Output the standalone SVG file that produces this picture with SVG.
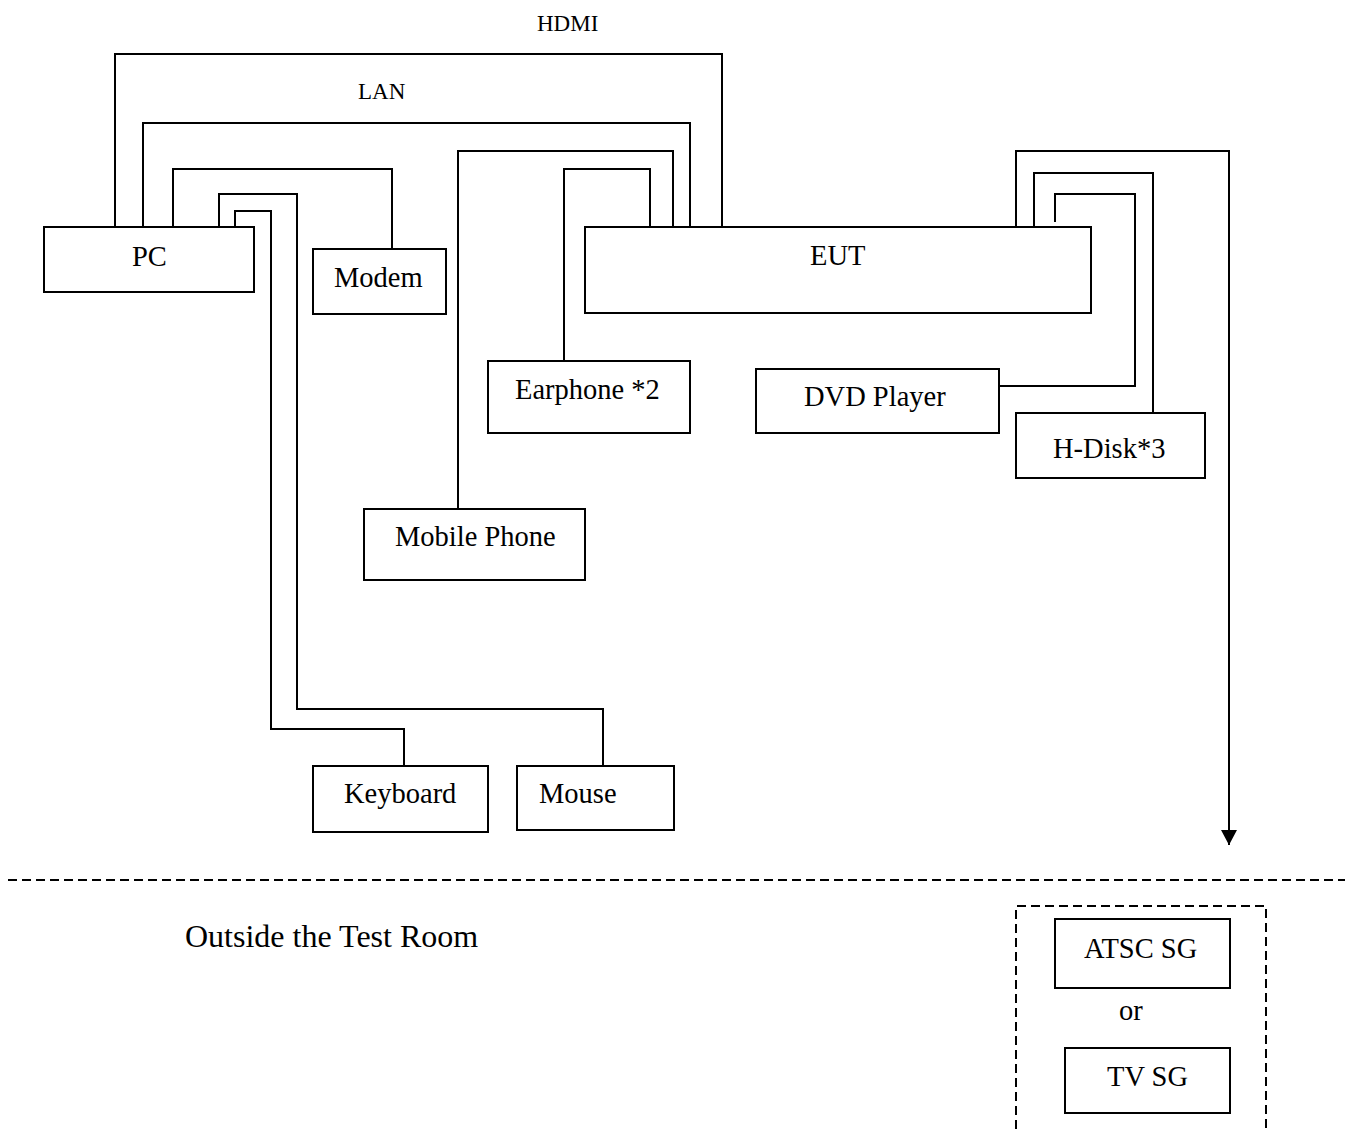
<svg xmlns="http://www.w3.org/2000/svg" width="1352" height="1129" viewBox="0 0 1352 1129">
<style>
.box{fill:#fff;stroke:#000;stroke-width:2}
.wire{fill:none;stroke:#000;stroke-width:2;stroke-linejoin:miter}
.dash{fill:none;stroke:#000;stroke-width:2;stroke-dasharray:9 5}
text{font-family:"Liberation Serif","Times New Roman",serif;font-size:28.5px;fill:#000}
.small{font-size:23px}
.big{font-size:32px}
</style>
<defs>
<marker id="arrow" markerUnits="userSpaceOnUse" markerWidth="15" markerHeight="16" viewBox="0 0 15 16" refX="15" refY="8" orient="auto">
<path d="M0,0 L15,8 L0,16 Z" fill="#000"/>
</marker>
</defs>
<rect width="1352" height="1129" fill="#fff"/>
<g id="connectors">
<polyline class="wire" points="115,227 115,54 722,54 722,227"/>
<polyline class="wire" points="143,227 143,123 690,123 690,227"/>
<polyline class="wire" points="173,227 173,169 392,169 392,249"/>
<polyline class="wire" points="219,227 219,194 297,194 297,709 603,709 603,766"/>
<polyline class="wire" points="235,227 235,211 271,211 271,729 404,729 404,766"/>
<polyline class="wire" points="458,509 458,151 673,151 673,227"/>
<polyline class="wire" points="564,361 564,169 650,169 650,227"/>
<polyline class="wire" points="1016,227 1016,151 1229,151 1229,845" marker-end="url(#arrow)"/>
<polyline class="wire" points="1034,227 1034,173 1153,173 1153,413"/>
<polyline class="wire" points="1055,222 1055,194 1135,194 1135,386 999,386"/>
<text class="small" x="537" y="31">HDMI</text>
<text class="small" x="358" y="99">LAN</text>
</g>
<g id="boundary">
<line class="dash" x1="8" y1="880" x2="1345" y2="880"/>
<path class="dash" d="M1016,1129 V906 H1266 V1129"/>
<text class="big" x="185" y="947">Outside the Test Room</text>
</g>
<g id="pc"><rect class="box" x="44" y="227" width="210" height="65"/><text x="132" y="266">PC</text></g>
<g id="modem"><rect class="box" x="313" y="249" width="133" height="65"/><text x="334" y="287">Modem</text></g>
<g id="eut"><rect class="box" x="585" y="227" width="506" height="86"/><text x="810" y="265">EUT</text></g>
<g id="earphone"><rect class="box" x="488" y="361" width="202" height="72"/><text x="515" y="399">Earphone *2</text></g>
<g id="dvd"><rect class="box" x="756" y="369" width="243" height="64"/><text x="804" y="406">DVD Player</text></g>
<g id="hdisk"><rect class="box" x="1016" y="413" width="189" height="65"/><text x="1053" y="458">H-Disk*3</text></g>
<g id="mobile"><rect class="box" x="364" y="509" width="221" height="71"/><text x="395" y="546">Mobile Phone</text></g>
<g id="keyboard"><rect class="box" x="313" y="766" width="175" height="66"/><text x="344" y="803">Keyboard</text></g>
<g id="mouse"><rect class="box" x="517" y="766" width="157" height="64"/><text x="539" y="803">Mouse</text></g>
<g id="atsc"><rect class="box" x="1055" y="919" width="175" height="69"/><text x="1084" y="958">ATSC SG</text></g>
<g id="or"><text x="1119" y="1020">or</text></g>
<g id="tvsg"><rect class="box" x="1065" y="1048" width="165" height="65"/><text x="1107" y="1086">TV SG</text></g>
</svg>
